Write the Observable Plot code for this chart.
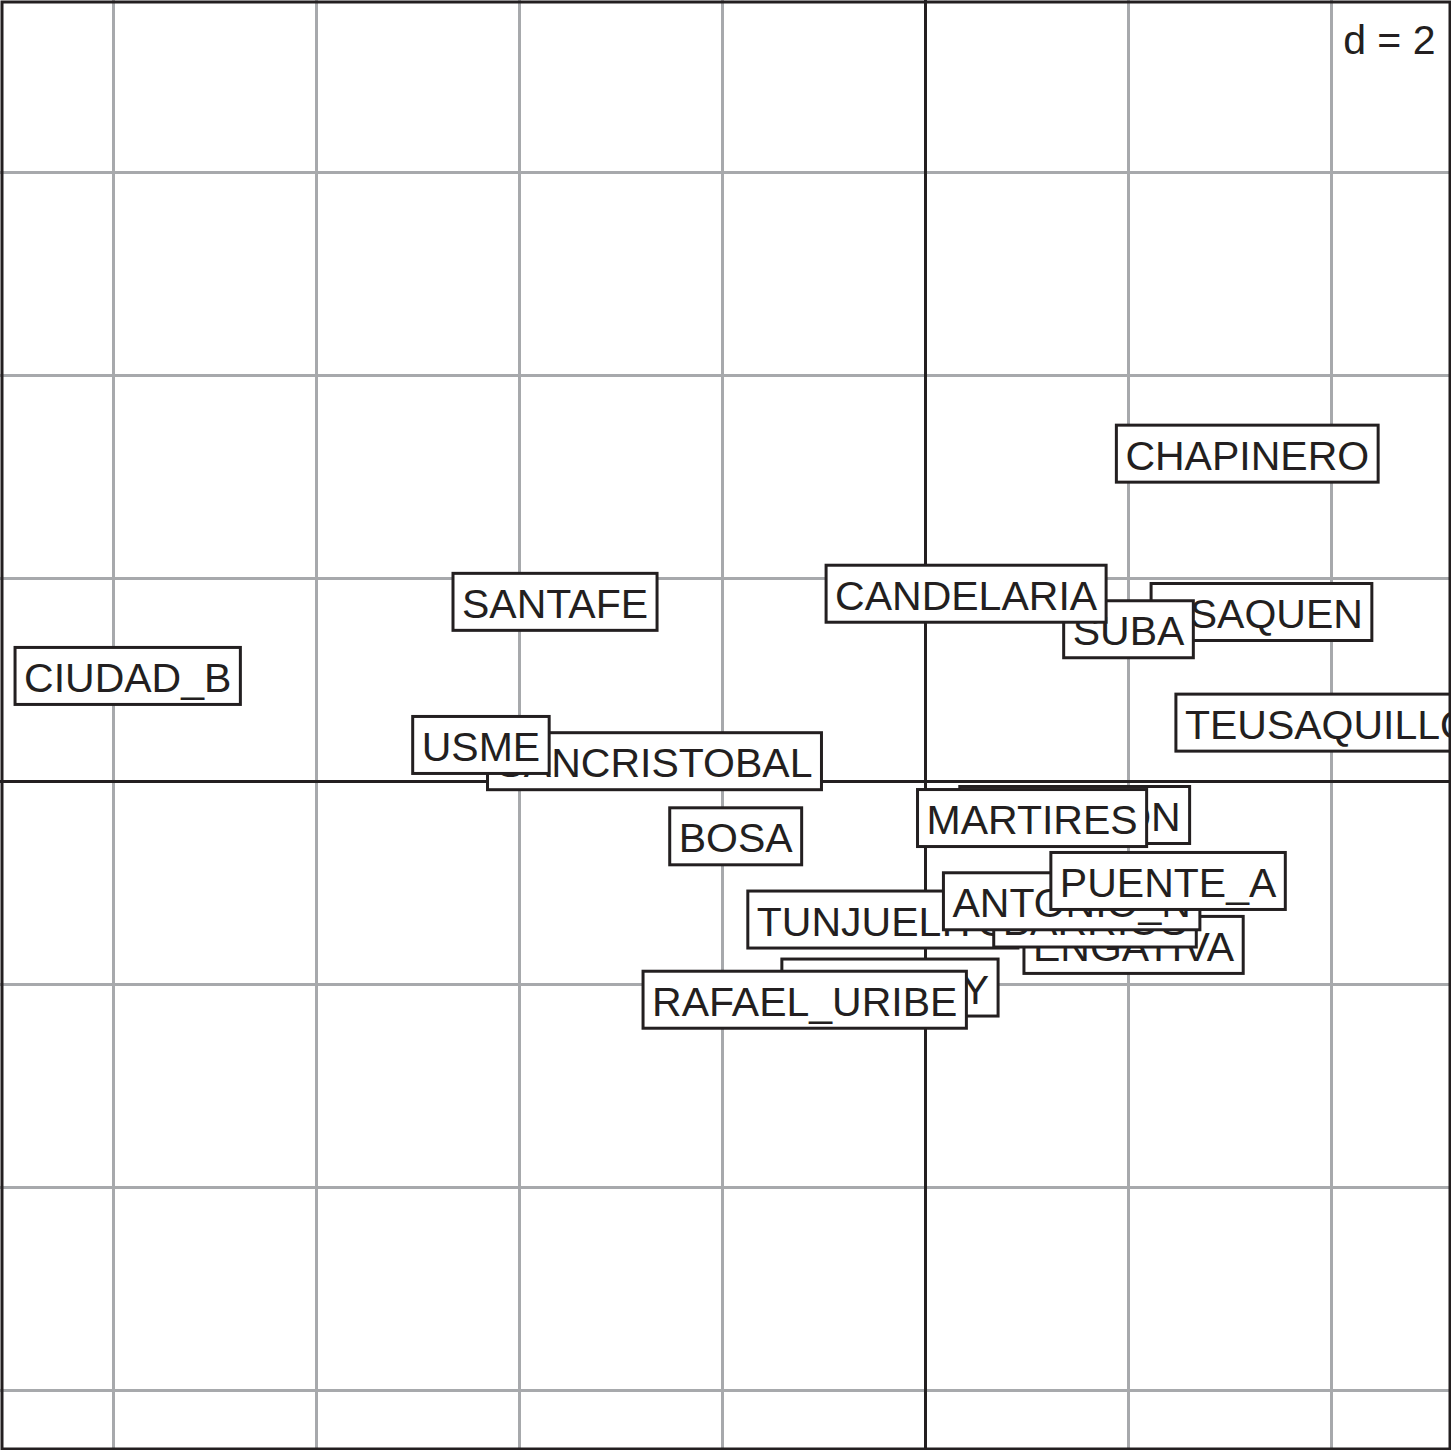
<!DOCTYPE html>
<html><head><meta charset="utf-8">
<script src="https://cdn.jsdelivr.net/npm/d3@7"></script>
<script src="https://cdn.jsdelivr.net/npm/@observablehq/plot@0.6"></script>
<style>html,body{margin:0;padding:0;background:#fff;overflow:hidden} #chart svg{overflow:hidden;max-width:none;display:block}</style>
</head><body><div id="chart"></div>
<script>
// Localities (draw order), coordinates on factorial plane
const labels = ["USAQUEN","CHAPINERO","SANTAFE","SANCRISTOBAL","USME","TUNJUELITO","BOSA","KENNEDY","FONTIBON","ENGATIVA","SUBA","BARRIOS","TEUSAQUILLO","MARTIRES","ANTONIO_N","PUENTE_A","CANDELARIA","RAFAEL_URIBE","CIUDAD_B"];
const xs = [3.31, 3.17, -3.65, -2.67, -4.38, -0.42, -1.87, -0.35, 1.47, 2.05, 2.00, 1.67, 3.97, 1.05, 1.44, 2.39, 0.40, -1.19, -7.86];
const ys = [1.67, 3.23, 1.77, 0.20, 0.36, -1.36, -0.54, -2.03, -0.33, -1.61, 1.50, -1.35, 0.58, -0.36, -1.18, -0.98, 1.85, -2.15, 1.04];
const gridX = [-8, -6, -4, -2, 2, 4];
const gridY = [-6, -4, -2, 2, 4, 6];
const scaleNote = ["d = 2"];

const ink = "#231f20";
const textShift = 3;
const data = labels.map((label, i) => ({label, x: xs[i], y: ys[i]}));
const W = 1451, H = 1450, unit = 101.5;
const chart = Plot.plot({
  width: W, height: H, margin: 0,
  x: {domain: [-925 / unit, (W - 925) / unit], axis: null},
  y: {domain: [-(H - 781) / unit, 781 / unit], axis: null},
  style: {fontFamily: "'Liberation Sans', Arial, sans-serif", background: "#fff"},
  marks: [
    Plot.ruleX(gridX, {stroke: "#a7a9ac", strokeWidth: 3}),
    Plot.ruleY(gridY, {stroke: "#a7a9ac", strokeWidth: 3}),
    Plot.ruleX([0], {stroke: ink, strokeWidth: 3}),
    Plot.ruleY([0], {stroke: ink, strokeWidth: 3}),
    Plot.text(data, {x: "x", y: "y", text: "label", fontSize: 41, fill: ink, dy: textShift}),
    Plot.text(scaleNote, {frameAnchor: "top-right", dx: -16, dy: 24, fontSize: 41, fill: ink, textAnchor: "end", lineAnchor: "top"}),
    Plot.frame({stroke: ink, strokeWidth: 3, inset: 1.5})
  ]
});
document.getElementById("chart").append(chart);

// draw a framed white box behind each label, interleaved so later labels cover earlier ones
const sx = chart.scale("x"), sy = chart.scale("y");
const group = chart.querySelectorAll('g[aria-label="text"]')[0];
const texts = group.querySelectorAll("text");
texts.forEach((t, i) => {
  const w = t.getComputedTextLength() + 18;
  const h = 57;
  const cx = sx.apply(data[i].x), cy = sy.apply(data[i].y) - textShift; // group is translated by dy
  const r = document.createElementNS("http://www.w3.org/2000/svg", "rect");
  r.setAttribute("x", cx - w / 2);
  r.setAttribute("y", cy - h / 2);
  r.setAttribute("width", w);
  r.setAttribute("height", h);
  r.setAttribute("fill", "#fff");
  r.setAttribute("stroke", ink);
  r.setAttribute("stroke-width", 3);
  group.insertBefore(r, t);
});
</script>
</body></html>
